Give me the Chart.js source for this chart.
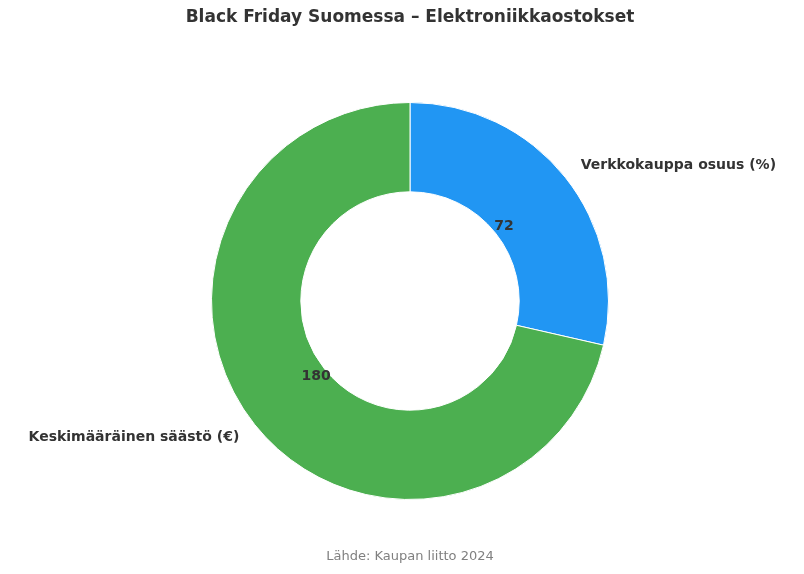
<!DOCTYPE html>
<html><head><meta charset="utf-8">
<script src="https://cdn.jsdelivr.net/npm/chart.js@4"></script>
<style>html,body{margin:0;padding:0;background:#fff}#c{display:block}</style>
</head><body>
<div style="width:804px;height:574px"><canvas id="c" width="804" height="574"></canvas></div>
<script>
const labels = ["Verkkokauppa osuus (%)", "Keskimääräinen säästö (€)"];
const values = [72, 180];
const colors = ["#2196F3", "#4CAF50"];
const titleText = "Black Friday Suomessa – Elektroniikkaostokset";
const sourceText = "Lähde: Kaupan liitto 2024";

const textPlugin = {
  id: 'texts',
  afterDraw(chart) {
    const ctx = chart.ctx;
    const arcs = chart.getDatasetMeta(0).data;
    ctx.save();
    ctx.fillStyle = '#333';
    ctx.font = 'bold 17px "DejaVu Sans"';
    ctx.textAlign = 'center'; ctx.textBaseline = 'middle';
    ctx.fillText(titleText, 410, 18);
    ctx.fillStyle = '#808080';
    ctx.font = '13px "DejaVu Sans"';
    ctx.fillText(sourceText, 410, 557);
    arcs.forEach((a, i) => {
      const mid = (a.startAngle + a.endAngle) / 2;
      const R = a.outerRadius;
      ctx.fillStyle = '#333';
      ctx.font = 'bold 14px "DejaVu Sans"';
      ctx.textAlign = 'center';
      const r1 = R * 0.605;
      ctx.fillText(String(values[i]), a.x + Math.cos(mid) * r1, a.y + Math.sin(mid) * r1);
      const r2 = R * 1.1;
      const x = a.x + Math.cos(mid) * r2, y = a.y + Math.sin(mid) * r2;
      ctx.textAlign = Math.cos(mid) >= 0 ? 'left' : 'right';
      ctx.fillText(labels[i], x, y);
    });
    ctx.restore();
  }
};

new Chart(document.getElementById('c'), {
  type: 'doughnut',
  data: { labels, datasets: [{ data: values, backgroundColor: colors, borderColor: '#fff', borderWidth: 1 }] },
  options: {
    responsive: false, animation: false, cutout: '55%',
    layout: { padding: { left: 211, right: 195, top: 102, bottom: 74 } },
    plugins: { legend: { display: false }, tooltip: { enabled: false } }
  },
  plugins: [textPlugin]
});
</script>
</body></html>
